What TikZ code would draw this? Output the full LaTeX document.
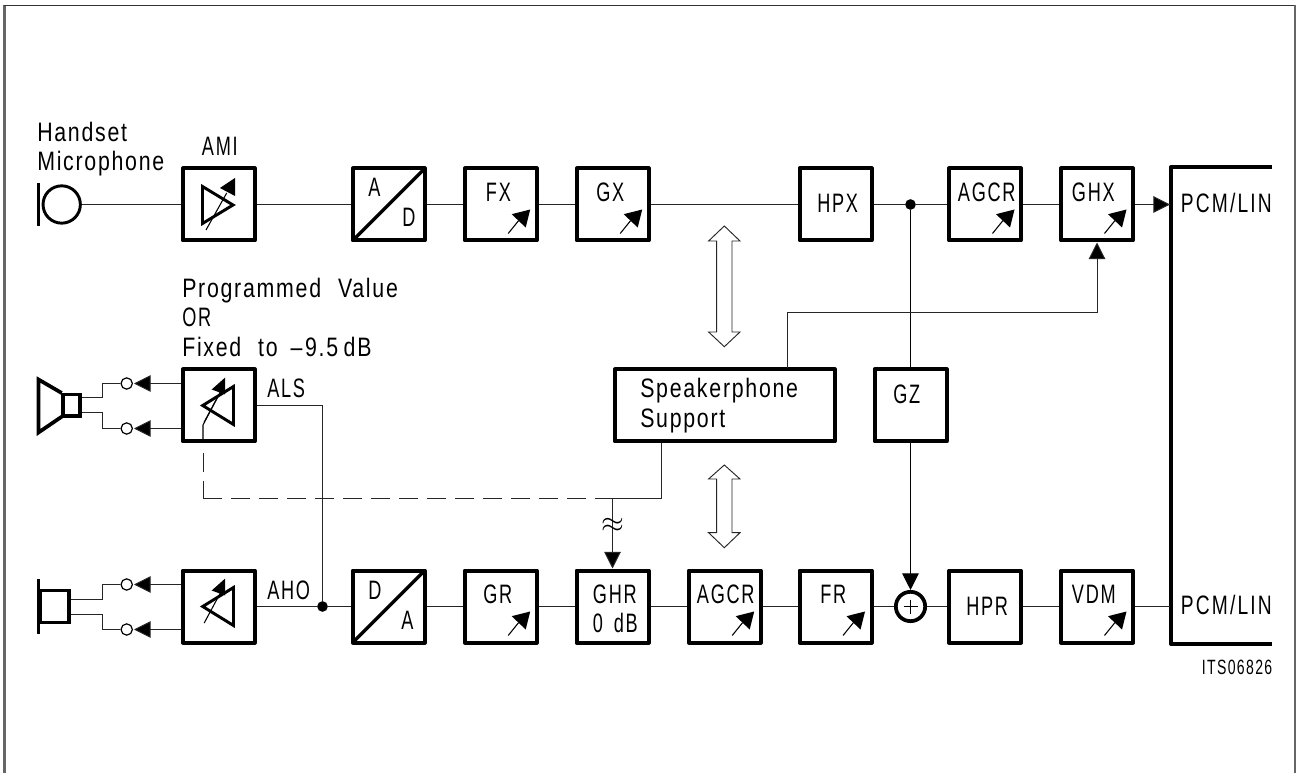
\documentclass[tikz,border=0pt]{standalone}
\usepackage{fontspec}
\setmainfont[FakeStretch=0.80,LetterSpace=6.5,WordSpace=2.2]{Liberation Sans}
\newfontfamily\capsf[FakeStretch=0.68,LetterSpace=6.5,WordSpace=1.6]{Liberation Sans}
\newfontfamily\widef[FakeStretch=0.72,LetterSpace=8]{Liberation Sans}
\usetikzlibrary{arrows.meta,calc}
\tikzset{
  x=0.75pt,y=-0.75pt,
  wire/.style={line width=0.75pt,draw=black!85},
  blk/.style={draw=black,line width=3pt,minimum width=54pt,minimum height=54pt,inner sep=0pt,line join=round},
  thk/.style={draw=black,line width=3pt,line join=round},
  lbl/.style={inner sep=0pt,font=\fontsize{20}{22}\selectfont,anchor=base west},
  capt/.style={inner sep=0pt,font=\fontsize{20}{22}\selectfont\capsf,anchor=base west},
  wid/.style={inner sep=0pt,font=\fontsize{20}{22}\selectfont\widef,anchor=base west},
  atip/.style={-{Triangle[length=12.5pt,width=12.5pt,fill=black]}},
  jdot/.style={circle,fill=black,inner sep=0pt,minimum size=8pt},
  term/.style={circle,draw=black,line width=0.9pt,fill=white,inner sep=0pt,minimum size=8.5pt},
  amp/.style={line width=2.2pt,line join=miter,draw=black},
  gainl/.style={line width=0.8pt,draw=black},
  dbl/.style={line width=0.7pt,draw=black!85,fill=white,line join=miter},
  dsh/.style={wire,dash pattern=on 14.25pt off 6.75pt},
}
\newcommand{\vararrow}[1]{
  \draw[gainl] ($(#1)+(7.5,29)$) -- ($(#1)+(18,16)$);
  \fill ($(#1)+(29.5,5)$) -- ($(#1)+(11,9.7)$) -- ($(#1)+(25,23)$) -- cycle;
}
\newcommand{\lampl}[1]{
  \draw[gainl] ($(#1)+(-14.5,16.5)$) -- ($(#1)+(3.5,-17)$);
  \draw[amp] ($(#1)+(14.8,-19)$) -- ($(#1)+(14.8,19)$) -- ($(#1)+(-16,0)$) -- cycle;
  \fill ($(#1)+(6.5,-28)$) -- ($(#1)+(-7,-16)$) -- ($(#1)+(6.5,-11)$) -- cycle;
}
\newcommand{\dblarrow}[5]{% x, top, upper neck, lower neck, bottom
  \draw[dbl] (#1,#2) -- (#1+15.7,#3) -- (#1+7.7,#3) -- (#1+7.7,#4) -- (#1+15.7,#4) -- (#1,#5)
     -- (#1-15.7,#4) -- (#1-7.7,#4) -- (#1-7.7,#3) -- (#1-15.7,#3) -- cycle;
}
\begin{document}
\begin{tikzpicture}
\useasboundingbox (0,0) rectangle (1296,773);
% frame
\draw[line width=1.8pt,draw=black!60] (4.5,773) -- (4.5,5.5);
\draw[line width=1.1pt,draw=black!80] (4,5.5) -- (1295,5.5);
\draw[line width=1.4pt,draw=black!60] (1295,5.5) -- (1295,773);

% blocks row 1
\node[blk] (ami) at (218.7,204.5) {};
\node[blk] (ad)  at (388.7,204.5) {};
\node[blk] (fx)  at (500.7,204.5) {};
\node[blk] (gx)  at (612.7,204.5) {};
\node[blk] (hpx) at (835.5,204.5) {};
\node[blk] (agcx) at (985,204.5) {};
\node[blk] (ghx) at (1097,204.5) {};
% row 2
\node[blk] (als) at (218.7,405.5) {};
\node[blk] (gz)  at (910.5,405.5) {};
\node[blk,minimum width=165pt] (sp) at (724.7,405.5) {};
% row 3
\node[blk] (aho) at (218.7,606.5) {};
\node[blk] (da)  at (388.7,606.5) {};
\node[blk] (gr)  at (500.7,606.5) {};
\node[blk] (ghr) at (612.5,606.5) {};
\node[blk] (agcr) at (724.7,606.5) {};
\node[blk] (fr)  at (835.5,606.5) {};
\node[blk] (hpr) at (985,606.5) {};
\node[blk] (vdm) at (1097,606.5) {};
\node[circle,draw=black,line width=2.8pt,minimum size=22pt,inner sep=0pt] (sum) at (910.5,606.5) {};
\draw[line width=0.8pt] ($(sum)+(-7,0)$) -- ($(sum)+(7,0)$) ($(sum)+(0,-7)$) -- ($(sum)+(0,7)$);

% PCM block
\draw[thk] (1272,167) -- (1171,167) -- (1171,644) -- (1272,644);
\coordinate (pcmt) at (1170,204.5);
\coordinate (pcmb) at (1170,606.5);

% A/D diagonals
\draw[line width=2.6pt] ($(ad.south west)+(2,-2)$) -- ($(ad.north east)+(-2,2)$);
\draw[line width=2.6pt] ($(da.south west)+(2,-2)$) -- ($(da.north east)+(-2,2)$);

% microphone
\draw[line width=2.8pt] (38.5,183) -- (38.5,226);
\node[circle,draw=black,line width=2.2pt,minimum size=28pt,inner sep=0pt] (mic) at (61.7,204.5) {};

% speaker
\node[draw=black,line width=2.8pt,minimum width=13pt,minimum height=16pt,inner sep=0pt] (spk) at (71.3,405.2) {};
\draw[line width=2.8pt,line join=miter] (61.7,393) -- (38.5,379.5) -- (38.5,432.5) -- (61.7,416.7);
% handset earpiece
\node[draw=black,line width=2.8pt,minimum width=22pt,minimum height=24pt,inner sep=0pt] (hs) at (54.5,606.5) {};
\draw[line width=2.8pt] (38.5,579) -- (38.5,634);

% terminals
\node[term] (t1) at (126.7,383.5) {};
\node[term] (t2) at (126.7,428.5) {};
\node[term] (t3) at (126.7,584.5) {};
\node[term] (t4) at (126.7,629.5) {};
\coordinate (a1) at (134,383.5);
\coordinate (a2) at (134,428.5);
\coordinate (a3) at (134,584.5);
\coordinate (a4) at (134,629.5);
\coordinate (b1) at (181,383.5);
\coordinate (b2) at (181,428.5);
\coordinate (b3) at (181,584.5);
\coordinate (b4) at (181,629.5);
\coordinate (s1) at (82,397.5);
\coordinate (s2) at (82,412.5);
\coordinate (s3) at (71,599.5);
\coordinate (s4) at (71,614.5);
\draw[wire,atip] (b1) -- (a1);
\draw[wire,atip] (b2) -- (a2);
\draw[wire,atip] (b3) -- (a3);
\draw[wire,atip] (b4) -- (a4);
\draw[wire] (s1) -- (102.5,397.5) -- (102.5,383.5) -- (t1);
\draw[wire] (s2) -- (102.5,412.5) -- (102.5,428.5) -- (t2);
\draw[wire] (s3) -- (102.5,599.5) -- (102.5,584.5) -- (t3);
\draw[wire] (s4) -- (102.5,614.5) -- (102.5,629.5) -- (t4);

% junction dots
\node[jdot] (j1) at (322.5,606.5) {};
\node[jdot] (j2) at (910.5,204.5) {};

% signal wires
\draw[wire] (mic) -- (ami);
\draw[wire] (ami) -- (ad);
\draw[wire] (ad) -- (fx);
\draw[wire] (fx) -- (gx);
\draw[wire] (gx) -- (hpx);
\draw[wire] (hpx) -- (j2);
\draw[wire] (j2) -- (agcx);
\draw[wire] (agcx) -- (ghx);
\draw[wire,atip] (ghx) -- (pcmt);
\draw[wire] (aho) -- (j1);
\draw[wire] (j1) -- (da);
\draw[wire] (da) -- (gr);
\draw[wire] (gr) -- (ghr);
\draw[wire] (ghr) -- (agcr);
\draw[wire] (agcr) -- (fr);
\draw[wire] (fr) -- (sum);
\draw[wire] (sum) -- (hpr);
\draw[wire] (hpr) -- (vdm);
\draw[wire] (vdm) -- (pcmb);
\draw[wire] (als.east) -| (j1);
\draw[line width=0.75pt,black] (j2) -- (gz.north);
\draw[line width=0.75pt,black,atip] (gz.south) -- (sum.north);

% speakerphone connections
\coordinate (fbs) at (787.5,368);
\coordinate (fbk) at (1097,312.5);
\draw[wire,atip] (fbs) |- (fbk) -- (ghx.south);
\coordinate (sps) at (661,443);
\coordinate (tap) at (612.5,498.5);
\coordinate (dc) at (203,498.5);
\coordinate (alsb) at (203,443.5);
\draw[wire] (sps) |- (tap);
\draw[wire,atip] (tap) -- (ghr.north);
\draw[dsh] (dc) -- (tap);
\draw[dsh,dash pattern=on 13pt off 7pt on 14.25pt off 7pt] (dc) -- (alsb);
\node[inner sep=0pt] (approx) at (612.5,525) {\scalebox{2.2}{$\approx$}};

% double arrows
\dblarrow{724.3}{226}{241}{332}{346.7}
\dblarrow{724.3}{465}{479}{532.7}{547.7}

% amplifier symbols
\draw[gainl] (206,230) -- (226.7,193);
\draw[amp] (202.5,186.5) -- (202.5,223.5) -- (233,205) -- cycle;
\fill (235,178) -- (220,188) -- (235,196) -- cycle;
\draw[gainl] (203,443) -- (203,425) -- (222,389);
\lampl{als}
\lampl{aho}

% variable-gain arrows
\vararrow{fx}
\vararrow{gx}
\vararrow{agcx}
\vararrow{ghx}
\vararrow{gr}
\vararrow{agcr}
\vararrow{fr}
\vararrow{vdm}

% text
\node[lbl] (t01) at (37,142) {Handset};
\node[lbl] (t02) at (37,171) {Microphone};
\node[capt] (t03) at (201.7,156) {AMI};
\node[lbl] (t04) at (182,298) {Programmed Value};
\node[capt] (t05) at (182,327) {OR};
\node[lbl] (t06) at (182,356.7) {Fixed to \hspace{-3pt}--\hspace{2pt}9.5\hspace{-8.5pt} dB};
\node[capt] (t07) at (267,398) {ALS};
\node[capt] (t08) at (267,599) {AHO};
\node[capt] (t09) at (368,197) {A};
\node[capt] (t10) at (402,227) {D};
\node[capt] (t11) at (368,599) {D};
\node[capt] (t12) at (401,629) {A};
\node[capt] (t13) at (485.7,201.7) {FX};
\node[capt] (t14) at (596,201.7) {GX};
\node[capt] (t15) at (817,212.7) {HPX};
\node[capt] (t16) at (957.7,201.7) {AGCR};
\node[capt] (t17) at (1071.7,201.7) {GHX};
\node[wid] (t18) at (1180.7,212.3) {PCM/LIN};
\node[lbl] (t19) at (640,398) {Speakerphone};
\node[lbl] (t20) at (640,428) {Support};
\node[capt] (t21) at (893,404) {GZ};
\node[capt] (t22) at (483,603) {GR};
\node[capt] (t23) at (592.7,603) {GHR};
\node[capt] (t24) at (592.7,632.7) {0 dB};
\node[capt] (t25) at (696.7,603) {AGCR};
\node[capt] (t26) at (820,603) {FR};
\node[capt] (t27) at (966,615) {HPR};
\node[capt] (t28) at (1071.7,603) {VDM};
\node[wid] (t29) at (1180.7,614.3) {PCM/LIN};
\node[inner sep=0pt,font=\fontsize{15.5}{17}\selectfont\capsf,anchor=base east] (t30) at (1272.5,674) {ITS06826};
\end{tikzpicture}
\end{document}
